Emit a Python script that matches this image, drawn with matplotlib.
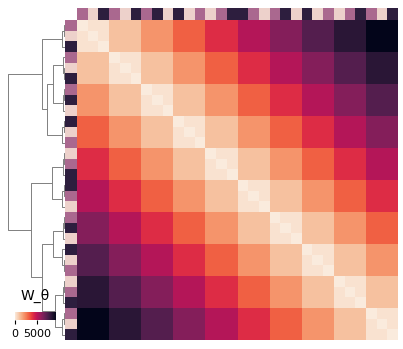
import numpy as np
import matplotlib
matplotlib.use("Agg")
import matplotlib.pyplot as plt
from matplotlib.colors import ListedColormap
import seaborn as sns

# group (0 light, 1 mid, 2 dark) of every row/column in display order
ROW_GROUP = [1, 0, 2, 1, 0, 2, 1, 2, 0, 2,
             0, 1, 0, 1, 2, 2, 1, 0, 1, 2,
             0, 2, 0, 1, 0, 1, 2, 1, 0, 2]

# W_theta between blocks of three rows
BLOCK_W = [
    [250, 1040, 2080, 3120, 4160, 5200, 6240, 7280, 8320, 9360],
    [1040, 250, 1040, 2080, 3120, 4160, 5200, 6240, 7280, 8320],
    [2080, 1040, 250, 1040, 2080, 3120, 4160, 5200, 6240, 7280],
    [3120, 2080, 1040, 250, 1040, 2080, 3120, 4160, 5200, 6240],
    [4160, 3120, 2080, 1040, 250, 1040, 2080, 3120, 4160, 5200],
    [5200, 4160, 3120, 2080, 1040, 250, 1040, 2080, 3120, 4160],
    [6240, 5200, 4160, 3120, 2080, 1040, 250, 1040, 2080, 3120],
    [7280, 6240, 5200, 4160, 3120, 2080, 1040, 250, 1040, 2080],
    [8320, 7280, 6240, 5200, 4160, 3120, 2080, 1040, 250, 1040],
    [9360, 8320, 7280, 6240, 5200, 4160, 3120, 2080, 1040, 250],
]

# row linkage: (child a, child b, height); leaves 0-29, new nodes from 30 on
LINKAGE = [
    (0, 1, 0.25), (30, 2, 0.45),
    (4, 5, 0.25), (3, 32, 0.40),
    (6, 7, 0.22), (34, 8, 0.42),
    (9, 10, 0.25), (36, 11, 0.45),
    (12, 13, 0.25), (38, 14, 0.40),
    (15, 16, 0.22), (40, 17, 0.45),
    (18, 19, 0.25), (42, 20, 0.40),
    (22, 23, 0.25), (21, 44, 0.45),
    (24, 25, 0.22), (46, 26, 0.40),
    (27, 28, 0.25), (48, 29, 0.45),
    (33, 35, 2.05),   # 50
    (50, 37, 3.20),   # 51
    (31, 51, 4.08),   # 52
    (39, 41, 2.33),   # 53
    (43, 45, 2.05),   # 54
    (47, 49, 1.75),   # 55
    (54, 55, 4.08),   # 56
    (53, 56, 5.95),   # 57
    (52, 57, 10.0),   # 58
]

n = len(ROW_GROUP)
blk = np.arange(n) // 3
W = np.array(BLOCK_W, dtype=float)[blk][:, blk]
W[np.arange(n), np.arange(n)] = 0

W_PX, H_PX = 403, 349
fig = plt.figure(figsize=(W_PX / 100, H_PX / 100), dpi=100)


def px_axes(x0, y0, x1, y1):
    return fig.add_axes([x0 / W_PX, 1 - y1 / H_PX, (x1 - x0) / W_PX, (y1 - y0) / H_PX])


cmap = sns.color_palette("rocket_r", as_cmap=True)
grp_cmap = ListedColormap(sns.cubehelix_palette(3))

# heatmap
ax = px_axes(77, 20, 398, 340)
mesh = ax.pcolormesh(W, cmap=cmap, vmin=0, vmax=W.max())
ax.set_xlim(0, n)
ax.set_ylim(n, 0)
ax.set_axis_off()

# row / column colours
g = np.array(ROW_GROUP)
ax_rc = px_axes(65, 20, 77, 340)
ax_rc.pcolormesh(g[:, None], cmap=grp_cmap, vmin=-0.5, vmax=2.5)
ax_rc.set_ylim(n, 0)
ax_rc.set_axis_off()

ax_cc = px_axes(77, 8, 398, 20)
ax_cc.pcolormesh(g[None, :], cmap=grp_cmap, vmin=-0.5, vmax=2.5)
ax_cc.set_xlim(0, n)
ax_cc.set_axis_off()

# row dendrogram
ax_d = px_axes(5, 20, 65, 340)
pos = {i: i + 0.5 for i in range(n)}
hgt = {i: 0.0 for i in range(n)}
for k, (a, b, h) in enumerate(LINKAGE):
    node = n + k
    ax_d.plot([hgt[a], h, h, hgt[b]], [pos[a], pos[a], pos[b], pos[b]],
              color="0.5", lw=0.7)
    pos[node] = (pos[a] + pos[b]) / 2
    hgt[node] = h
top = max(h for _, _, h in LINKAGE)
ax_d.set_xlim(top * 1.05, 0)
ax_d.set_ylim(n, 0)
ax_d.set_axis_off()

# colour bar
cax = px_axes(15, 312, 56, 320)
cb = fig.colorbar(mesh, cax=cax, orientation="horizontal", ticks=[0, 5000])
cb.outline.set_linewidth(0)
cax.tick_params(labelsize=8, length=3)
cax.set_title("W_θ", fontsize=10, pad=9)

fig.savefig("out.png", dpi=100)
